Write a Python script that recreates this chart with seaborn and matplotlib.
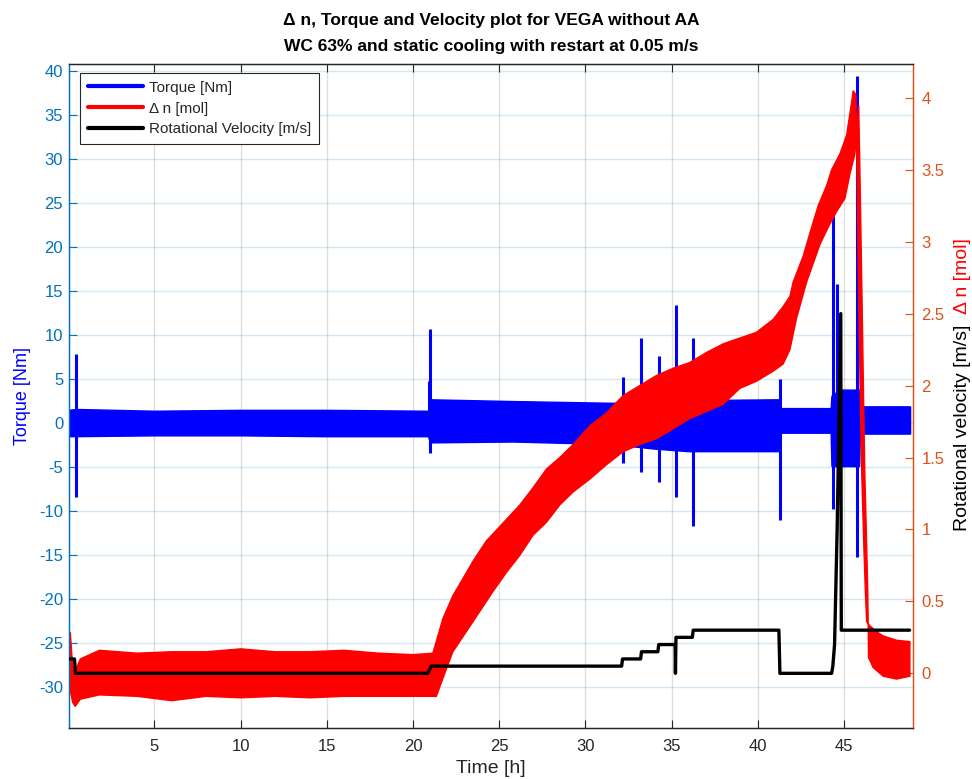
import numpy as np
import matplotlib
matplotlib.use("Agg")
import matplotlib.pyplot as plt
from matplotlib.lines import Line2D
import seaborn as sns

# ---------------- data ----------------
# Rotational velocity [m/s] (right axis)
vel_t = [0.0, 0.36, 0.42, 20.85, 21.05, 32.1, 32.15, 33.2, 33.25, 34.2, 34.25, 35.2, 35.22, 35.25,
         36.2, 36.25, 41.22, 41.28, 44.28, 44.35, 44.45, 44.6, 44.81, 44.84, 48.8]
vel_v = [0.1, 0.1, 0.0, 0.0, 0.05, 0.05, 0.1, 0.1, 0.15, 0.15, 0.2, 0.2, 0.0, 0.25,
         0.25, 0.3, 0.3, 0.0, 0.0, 0.05, 0.2, 1.0, 2.5, 0.3, 0.3]

# Torque [Nm] noise band (left axis): upper and lower envelopes
tq_up_t = [0.0, 0.5, 5, 10, 15, 20.9, 21.0, 25.8, 31.6, 34, 36, 41.2, 41.3, 44.25, 44.3, 44.75, 45.9, 45.95, 48.86]
tq_up_v = [1.4, 1.5, 1.3, 1.4, 1.4, 1.3, 2.6, 2.4, 2.2, 2.4, 2.5, 2.6, 1.6, 1.6, 3.0, 3.7, 3.7, 1.8, 1.8]
tq_lo_t = [0.0, 5, 10, 15, 20.9, 21.0, 25.8, 31.6, 34, 36, 41.2, 41.3, 44.25, 44.3, 45.9, 45.95, 48.86]
tq_lo_v = [-1.6, -1.5, -1.5, -1.6, -1.6, -2.3, -2.2, -2.5, -3.0, -3.3, -3.3, -1.2, -1.2, -5.0, -5.0, -1.3, -1.3]

# Torque spikes: time, min, max
spike_t = [0.47, 20.9, 21.0, 32.15, 33.25, 34.25, 35.24, 36.25, 41.28, 44.38, 44.62, 45.75]
spike_lo = [-8.4, -1.0, -3.4, -4.6, -5.6, -6.7, -8.4, -11.8, -11.1, -9.8, -5.0, -15.3]
spike_hi = [7.8, 4.7, 10.6, 5.2, 9.6, 7.6, 13.4, 9.6, 5.0, 23.5, 15.8, 39.4]

# Delta n [mol] noise band (right axis): upper and lower envelopes
dn_up_t = [0.0, 0.12, 0.25, 0.45, 0.7, 1.8, 4, 6, 8, 10, 12, 14, 16, 18, 20, 21.15, 21.73, 22.31,
           22.9, 23.48, 24.25, 25.03, 26.19, 26.96, 27.74, 28.51, 29.28, 30.25, 31.22, 32.18, 33.15,
           34.12, 35.08, 36.05, 37.02, 37.99, 38.95, 39.92, 40.89, 41.47, 41.86, 42.05, 42.63, 43.02,
           43.5, 43.99, 44.28, 44.76, 45.15, 45.44, 45.53, 45.69, 45.85, 46.02, 46.13, 46.23, 46.31,
           46.5, 46.89, 47.27, 48.05, 48.82]
dn_up_v = [0.30, 0.28, 0.05, 0.03, 0.10, 0.16, 0.14, 0.15, 0.15, 0.17, 0.15, 0.15, 0.16, 0.14, 0.13,
           0.14, 0.38, 0.54, 0.66, 0.78, 0.92, 1.02, 1.17, 1.29, 1.42, 1.50, 1.59, 1.72, 1.81,
           1.93, 2.0, 2.07, 2.12, 2.16, 2.23, 2.29, 2.33, 2.37, 2.46, 2.55, 2.62, 2.72, 2.90,
           3.06, 3.25, 3.39, 3.50, 3.61, 3.74, 3.97, 4.05, 4.02, 2.55, 1.42, 0.95, 0.59, 0.36,
           0.33, 0.29, 0.26, 0.23, 0.22]
dn_lo_t = [0.0, 0.12, 0.25, 0.4, 0.7, 1.8, 4, 6, 8, 10, 12, 14, 16, 18, 20, 21.35, 21.93, 22.31,
           23.09, 23.87, 24.64, 25.41, 26.19, 26.96, 27.74, 28.51, 29.28, 30.25, 31.22, 32.18, 33.15,
           34.12, 35.08, 36.05, 37.02, 37.99, 38.95, 39.92, 40.89, 41.47, 41.86, 42.25, 42.83, 43.6,
           44.08, 44.57, 45.05, 45.34, 45.63, 45.85, 45.92, 46.05, 46.2, 46.3, 46.38, 46.42, 46.69,
           47.27, 48.05, 48.82]
dn_lo_v = [-0.05, -0.12, -0.2, -0.23, -0.18, -0.15, -0.16, -0.19, -0.16, -0.17, -0.16, -0.17, -0.16,
           -0.16, -0.16, -0.16, 0.03, 0.15, 0.29, 0.43, 0.57, 0.70, 0.82, 0.96, 1.05, 1.17,
           1.26, 1.35, 1.45, 1.54, 1.59, 1.63, 1.70, 1.77, 1.82, 1.87, 1.98, 2.03, 2.10,
           2.15, 2.25, 2.47, 2.72, 2.98, 3.10, 3.21, 3.30, 3.47, 3.61, 3.95, 3.5, 2.55, 1.42,
           0.95, 0.55, 0.11, 0.04, -0.02, -0.04, -0.02]

x_ticks = [5, 10, 15, 20, 25, 30, 35, 40, 45]
left_ticks = [-30, -25, -20, -15, -10, -5, 0, 5, 10, 15, 20, 25, 30, 35, 40]
right_ticks = [0, 0.5, 1, 1.5, 2, 2.5, 3, 3.5, 4]
right_labels = ["0", "0.5", "1", "1.5", "2", "2.5", "3", "3.5", "4"]

# ---------------- styling ----------------
sns.set_theme(style="white")
plt.rcParams["font.family"] = ["Liberation Sans", "DejaVu Sans"]
plt.rcParams["axes.unicode_minus"] = False

BLUE_AX = "#0072BD"
ORANGE_AX = "#D95319"
DARK = "#262626"

W, H = 972, 779
fig = plt.figure(figsize=(W / 100, H / 100), dpi=100)
L, R, T, B = 68.8, 913, 64, 728
ax1 = fig.add_axes([L / W, 1 - B / H, (R - L) / W, (B - T) / H])

# torque band + spikes
ax1.fill(np.r_[tq_up_t, tq_lo_t[::-1]], np.r_[tq_up_v, tq_lo_v[::-1]],
         facecolor="#0000FF", edgecolor="#0000FF", lw=1.0, zorder=2)
ax1.vlines(spike_t, spike_lo, spike_hi, color="#0000FF", lw=2.2, zorder=2)
ax1.set_xlim(0.03, 49.0)
ax1.set_ylim(-34.7, 40.76)
ax1.set_xticks(x_ticks)
ax1.set_yticks(left_ticks)
ax1.grid(axis="y", color=BLUE_AX, alpha=0.17, lw=1.0)
ax1.grid(axis="x", color=DARK, alpha=0.15, lw=1.0)
ax1.set_axisbelow(True)
ax1.tick_params(axis="y", direction="in", length=6, width=0.8, colors=BLUE_AX,
                labelsize=12, left=True, right=True, pad=4)
ax1.tick_params(axis="x", direction="in", length=6, width=0.8, colors=DARK,
                labelsize=12, top=True, bottom=True, pad=8)
ax1.set_ylabel("Torque [Nm]", color="#0000FF", fontsize=13, labelpad=6)
ax1.set_xlabel("Time [h]", color=DARK, fontsize=14, labelpad=4)

ax2 = ax1.twinx()
ax2.fill(np.r_[dn_up_t, dn_lo_t[::-1]], np.r_[dn_up_v, dn_lo_v[::-1]],
         facecolor="#FF0000", edgecolor="#FF0000", lw=1.0, zorder=2)
sns.lineplot(x=vel_t, y=vel_v, ax=ax2, sort=False, estimator=None,
             color="black", lw=2.4, zorder=3)
ax2.set_ylim(-0.38, 4.235)
ax2.set_xlim(0.03, 49.0)
ax2.set_yticks(right_ticks)
ax2.set_yticklabels(right_labels)
ax2.tick_params(axis="y", direction="in", length=6, width=0.8, colors=ORANGE_AX,
                labelsize=12, left=False, right=True, pad=6)

for ax in (ax1, ax2):
    ax.spines["left"].set_color(BLUE_AX)
    ax.spines["right"].set_color(ORANGE_AX)
    ax.spines["top"].set_color(DARK)
    ax.spines["bottom"].set_color(DARK)
    for s in ax.spines.values():
        s.set_linewidth(0.9)

ax1.set_title("Δ n, Torque and Velocity plot for VEGA without AA\n"
              "WC 63% and static cooling with restart at 0.05 m/s",
              fontweight="bold", fontsize=12.5, linespacing=1.95, pad=9, color="black")

fig.text(962 / W, 1 - 276 / H, "Δ n [mol]", rotation=90, color="#FF0000",
         ha="center", va="center", fontsize=14)
fig.text(962 / W, 1 - 428 / H, "Rotational velocity [m/s]", rotation=90, color="black",
         ha="center", va="center", fontsize=14)

handles = [Line2D([], [], color="#0000FF", lw=3),
           Line2D([], [], color="#FF0000", lw=3),
           Line2D([], [], color="black", lw=3)]
labels = ["Torque [Nm]", "Δ n [mol]", "Rotational Velocity [m/s]"]
leg = ax2.legend(handles, labels, loc="upper left", bbox_to_anchor=(0.0133, 0.9864),
                 borderaxespad=0, frameon=True, fancybox=False, framealpha=1,
                 edgecolor=DARK, fontsize=11, handlelength=3.6, handletextpad=0.4,
                 labelspacing=0.45, borderpad=0.5)
leg.get_frame().set_linewidth(0.8)

fig.savefig("out.png", dpi=100)
